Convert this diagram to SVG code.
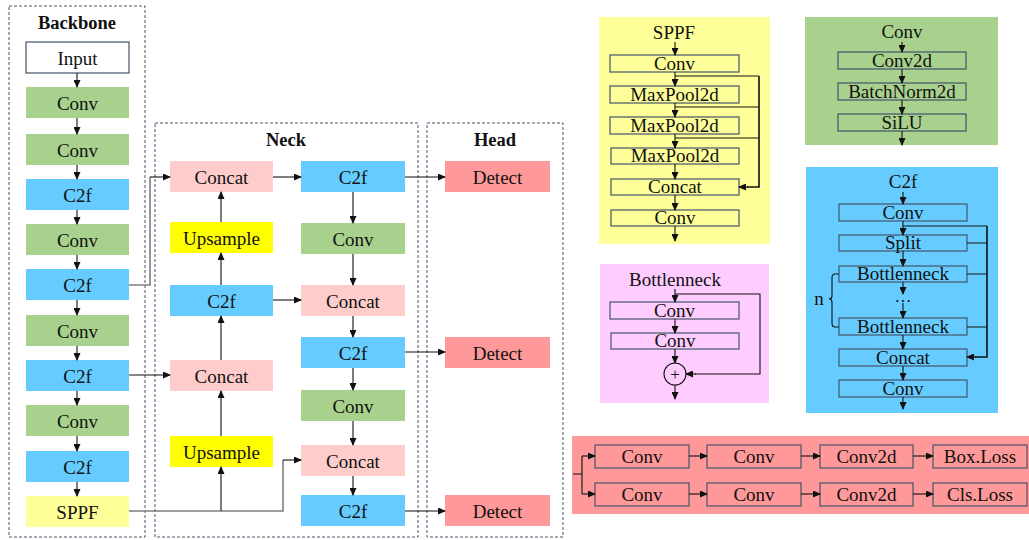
<svg xmlns="http://www.w3.org/2000/svg" width="1029" height="540" viewBox="0 0 1029 540" font-family="'Liberation Serif', 'Times New Roman', serif">
<style>
text{font-family:"Liberation Serif","Times New Roman",serif;font-size:19px;fill:#111;text-anchor:middle}
.title{font-weight:bold;font-size:18.5px}
.frame{fill:none;stroke:#44546A;stroke-width:1;stroke-dasharray:3 2}
.g{fill:#A9D18E}.b{fill:#66CCFF}.p{fill:#FFCCCC}.y{fill:#FFFF00}.ly{fill:#FFFF99}.r{fill:#FF9999}
.ib{fill:none;stroke:#44546A;stroke-width:1.2}
.ln{fill:none;stroke:#111;stroke-width:1.1}
.ar{fill:none;stroke:#111;stroke-width:1.1;marker-end:url(#ah)}
.gl{fill:none;stroke:#7f7f7f;stroke-width:1.6}
.th{fill:none;stroke:#111;stroke-width:1.6}
</style>
<defs>
<marker id="ah" markerWidth="8" markerHeight="7" refX="7" refY="3.5" orient="auto" markerUnits="userSpaceOnUse">
<path d="M0,0 L8,3.5 L0,7 z" fill="#111"/>
</marker>
</defs>
<rect width="1029" height="540" fill="#fff"/>

<!-- frames -->
<g id="backbone-frame">
<rect class="frame" x="9" y="6" width="136" height="531"/>
<text class="title" x="77" y="29">Backbone</text>
</g>
<g id="neck-frame">
<rect class="frame" x="155" y="123" width="263" height="414"/>
<text class="title" x="286" y="146">Neck</text>
</g>
<g id="head-frame">
<rect class="frame" x="427" y="123" width="136" height="414"/>
<text class="title" x="495" y="146">Head</text>
</g>

<!-- backbone nodes -->
<g id="bb-input"><rect x="26" y="42" width="103" height="31" fill="#fff" stroke="#44546A" stroke-width="1.2"/><text x="77.5" y="64.5">Input</text></g>
<g id="bb-conv1"><rect class="g" x="26" y="87" width="103" height="31"/><text x="77.5" y="109.5">Conv</text></g>
<g id="bb-conv2"><rect class="g" x="26" y="134" width="103" height="31"/><text x="77.5" y="156.5">Conv</text></g>
<g id="bb-c2f1"><rect class="b" x="26" y="179" width="103" height="31"/><text x="77.5" y="201.5">C2f</text></g>
<g id="bb-conv3"><rect class="g" x="26" y="224" width="103" height="31"/><text x="77.5" y="246.5">Conv</text></g>
<g id="bb-c2f2"><rect class="b" x="26" y="269" width="103" height="31"/><text x="77.5" y="291.5">C2f</text></g>
<g id="bb-conv4"><rect class="g" x="26" y="315" width="103" height="31"/><text x="77.5" y="337.5">Conv</text></g>
<g id="bb-c2f3"><rect class="b" x="26" y="360" width="103" height="31"/><text x="77.5" y="382.5">C2f</text></g>
<g id="bb-conv5"><rect class="g" x="26" y="405" width="103" height="31"/><text x="77.5" y="427.5">Conv</text></g>
<g id="bb-c2f4"><rect class="b" x="26" y="451" width="103" height="31"/><text x="77.5" y="473.5">C2f</text></g>
<g id="bb-sppf"><rect class="ly" x="26" y="496" width="103" height="31"/><text x="77.5" y="518.5">SPPF</text></g>

<!-- neck nodes -->
<g id="nk-concat1"><rect class="p" x="170" y="161" width="103" height="31"/><text x="221.5" y="183.5">Concat</text></g>
<g id="nk-up1"><rect class="y" x="170" y="222" width="103" height="31"/><text x="221.5" y="244.5">Upsample</text></g>
<g id="nk-c2f-l"><rect class="b" x="170" y="285" width="103" height="31"/><text x="221.5" y="307.5">C2f</text></g>
<g id="nk-concat2"><rect class="p" x="170" y="360" width="103" height="31"/><text x="221.5" y="382.5">Concat</text></g>
<g id="nk-up2"><rect class="y" x="170" y="436" width="103" height="31"/><text x="221.5" y="458.5">Upsample</text></g>
<g id="nk-c2f-r1"><rect class="b" x="301" y="161" width="104" height="31"/><text x="353" y="183.5">C2f</text></g>
<g id="nk-conv-r1"><rect class="g" x="301" y="223" width="104" height="31"/><text x="353" y="245.5">Conv</text></g>
<g id="nk-concat-r1"><rect class="p" x="301" y="285" width="104" height="31"/><text x="353" y="307.5">Concat</text></g>
<g id="nk-c2f-r2"><rect class="b" x="301" y="337" width="104" height="31"/><text x="353" y="359.5">C2f</text></g>
<g id="nk-conv-r2"><rect class="g" x="301" y="390" width="104" height="31"/><text x="353" y="412.5">Conv</text></g>
<g id="nk-concat-r2"><rect class="p" x="301" y="445" width="104" height="31"/><text x="353" y="467.5">Concat</text></g>
<g id="nk-c2f-r3"><rect class="b" x="301" y="495" width="104" height="31"/><text x="353" y="517.5">C2f</text></g>

<!-- head nodes -->
<g id="hd-detect1"><rect class="r" x="445" y="161" width="105" height="31"/><text x="497.5" y="183.5">Detect</text></g>
<g id="hd-detect2"><rect class="r" x="445" y="337" width="105" height="31"/><text x="497.5" y="359.5">Detect</text></g>
<g id="hd-detect3"><rect class="r" x="445" y="495" width="105" height="31"/><text x="497.5" y="517.5">Detect</text></g>

<!-- main connectors -->
<g id="connectors">
<path class="ar" d="M77,73 V87"/>
<path class="ar" d="M77,118 V134"/>
<path class="ar" d="M77,165 V179"/>
<path class="ar" d="M77,210 V224"/>
<path class="ar" d="M77,255 V269"/>
<path class="ar" d="M77,300 V315"/>
<path class="ar" d="M77,346 V360"/>
<path class="ar" d="M77,391 V405"/>
<path class="ar" d="M77,436 V451"/>
<path class="ar" d="M77,482 V496"/>
<path class="gl" d="M129,285 H150 V177"/>
<path class="ar" d="M150,177 H170"/>
<path class="ar" d="M129,375 H170"/>
<path class="gl" d="M129,511 H283 V460"/>
<path class="ar" d="M283,460 H301"/>
<path class="ar" d="M221,511 V467"/>
<path class="ar" d="M221,436 V391"/>
<path class="ar" d="M221,360 V316"/>
<path class="ar" d="M221,285 V253"/>
<path class="ar" d="M221,222 V192"/>
<path class="ar" d="M273,177 H301"/>
<path class="ar" d="M273,300 H301"/>
<path class="ar" d="M353,192 V223"/>
<path class="ar" d="M353,254 V285"/>
<path class="ar" d="M353,316 V337"/>
<path class="ar" d="M353,368 V390"/>
<path class="ar" d="M353,421 V445"/>
<path class="ar" d="M353,476 V495"/>
<path class="ar" d="M405,177 H445"/>
<path class="ar" d="M405,352 H445"/>
<path class="ar" d="M405,511 H445"/>
</g>

<!-- SPPF panel -->
<g id="panel-sppf">
<rect class="ly" x="599" y="17" width="171" height="227"/>
<text x="674" y="39">SPPF</text>
<rect class="ib" x="610" y="55" width="129" height="17"/><text x="674.5" y="70">Conv</text>
<rect class="ib" x="610" y="86" width="129" height="17"/><text x="674.5" y="101">MaxPool2d</text>
<rect class="ib" x="610" y="117" width="129" height="17"/><text x="674.5" y="132">MaxPool2d</text>
<rect class="ib" x="611" y="148" width="128" height="16"/><text x="675" y="162">MaxPool2d</text>
<rect class="ib" x="611" y="179" width="128" height="16"/><text x="675" y="193">Concat</text>
<rect class="ib" x="611" y="210" width="128" height="16"/><text x="675" y="224">Conv</text>
<path class="ar" d="M675,42 V55"/>
<path class="ar" d="M675,72 V86"/>
<path class="ar" d="M675,103 V117"/>
<path class="ar" d="M675,134 V148"/>
<path class="ar" d="M675,164 V179"/>
<path class="ar" d="M675,195 V210"/>
<path class="ar" d="M675,226 V241"/>
<path class="ln" d="M675,76 H759 M675,107 H759 M675,138 H759"/>
<path class="th" d="M759,76 V187 H747"/>
<path class="ar" d="M748,187 H739"/>
</g>

<!-- Conv panel -->
<g id="panel-conv">
<rect class="g" x="805" y="17" width="193" height="128"/>
<text x="902" y="38">Conv</text>
<rect class="ib" x="838" y="52" width="128" height="17"/><text x="902" y="67">Conv2d</text>
<rect class="ib" x="838" y="83" width="128" height="17"/><text x="902" y="98">BatchNorm2d</text>
<rect class="ib" x="838" y="114" width="128" height="17"/><text x="902" y="129">SiLU</text>
<path class="ar" d="M902,42 V52"/>
<path class="ar" d="M902,69 V83"/>
<path class="ar" d="M902,100 V114"/>
<path class="ar" d="M902,131 V145"/>
</g>

<!-- C2f panel -->
<g id="panel-c2f">
<rect class="b" x="806" y="167" width="192" height="246"/>
<text x="903" y="188">C2f</text>
<rect class="ib" x="839" y="204" width="128" height="17"/><text x="903" y="219">Conv</text>
<rect class="ib" x="839" y="235" width="128" height="16"/><text x="903" y="249">Split</text>
<rect class="ib" x="839" y="266" width="128" height="16"/><text x="903" y="280">Bottlenneck</text>
<rect class="ib" x="839" y="318" width="128" height="17"/><text x="903" y="333">Bottlenneck</text>
<rect class="ib" x="839" y="349" width="128" height="17"/><text x="903" y="364">Concat</text>
<rect class="ib" x="839" y="380" width="128" height="17"/><text x="903" y="395">Conv</text>
<path class="ar" d="M903,192 V204"/>
<path class="ar" d="M903,221 V235"/>
<path class="ar" d="M903,251 V266"/>
<path class="ar" d="M903,282 V294"/>
<text x="903" y="302" style="font-size:17px">…</text>
<path class="ar" d="M903,303 V318"/>
<path class="ar" d="M903,335 V349"/>
<path class="ar" d="M903,366 V380"/>
<path class="ar" d="M903,397 V409"/>
<path class="ln" d="M903,226 H987 M967,243 H987 M967,274 H987 M967,327 H987"/>
<path class="th" d="M987,226 V357 H975"/>
<path class="ar" d="M976,357 H967"/>
<path class="ln" d="M839,274 H835 Q832,274 832,278 V296 Q832,299 829,299 Q832,299 832,302 V323 Q832,327 835,327 H839"/>
<text x="819" y="305">n</text>
</g>

<!-- Bottleneck panel -->
<g id="panel-bottleneck">
<rect fill="#FFCCFF" x="600" y="264" width="169" height="139"/>
<text x="675" y="286">Bottlenneck</text>
<rect class="ib" x="610" y="302" width="129" height="17"/><text x="674.5" y="317">Conv</text>
<rect class="ib" x="611" y="333" width="128" height="16"/><text x="675" y="347">Conv</text>
<circle cx="675" cy="374" r="11" fill="none" stroke="#111" stroke-width="1.1"/>
<text x="675" y="380" style="font-size:17px">+</text>
<path class="ar" d="M675,289 V302"/>
<path class="ar" d="M675,319 V333"/>
<path class="ar" d="M675,349 V363"/>
<path class="ar" d="M675,385 V399"/>
<path class="ln" d="M675,294 H760 V374 H695"/>
<path class="ar" d="M696,374 H686"/>
</g>

<!-- Detect head panel -->
<g id="panel-detect">
<rect class="r" x="572" y="436" width="457" height="78"/>
<rect class="ib" x="595" y="445" width="94" height="23"/><text x="642" y="463">Conv</text>
<rect class="ib" x="707" y="445" width="94" height="23"/><text x="754" y="463">Conv</text>
<rect class="ib" x="820" y="445" width="93" height="23"/><text x="866.5" y="463">Conv2d</text>
<rect class="ib" x="933" y="445" width="94" height="23"/><text x="980" y="463">Box.Loss</text>
<rect class="ib" x="595" y="483" width="94" height="23"/><text x="642" y="501">Conv</text>
<rect class="ib" x="707" y="483" width="94" height="23"/><text x="754" y="501">Conv</text>
<rect class="ib" x="820" y="483" width="93" height="23"/><text x="866.5" y="501">Conv2d</text>
<rect class="ib" x="933" y="483" width="94" height="23"/><text x="980" y="501">Cls.Loss</text>
<path class="ln" d="M573,474 H582 M582,456 V494"/>
<path class="ar" d="M582,456 H595"/>
<path class="ar" d="M582,494 H595"/>
<path class="ar" d="M689,456 H707"/>
<path class="ar" d="M801,456 H820"/>
<path class="ar" d="M913,456 H933"/>
<path class="ar" d="M689,494 H707"/>
<path class="ar" d="M801,494 H820"/>
<path class="ar" d="M913,494 H933"/>
</g>
</svg>
